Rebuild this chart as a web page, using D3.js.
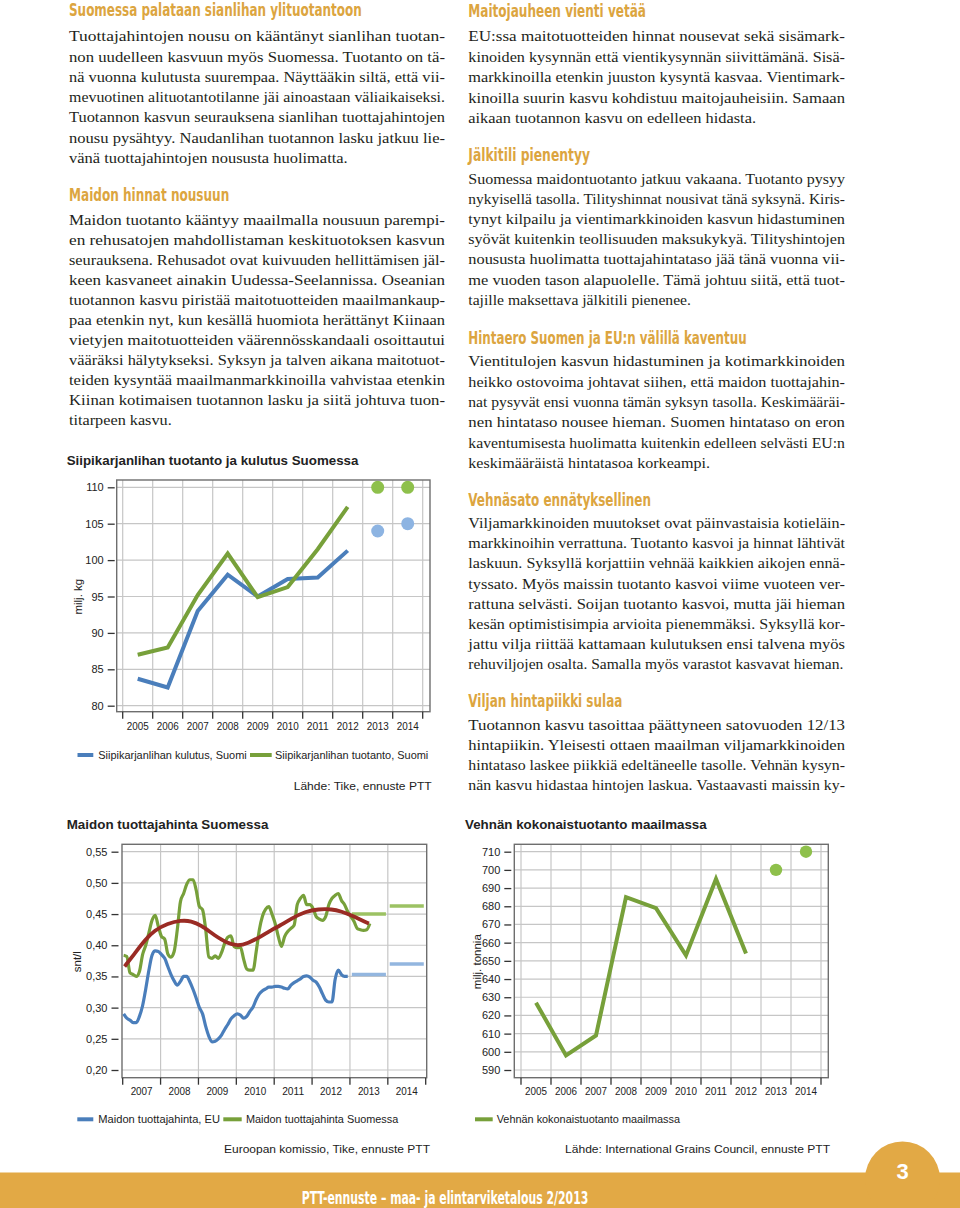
<!DOCTYPE html>
<html><head><meta charset="utf-8">
<script src="https://cdn.jsdelivr.net/npm/d3@7"></script>
<style>body{margin:0;background:#fff}svg{display:block}</style>
</head><body>
<script>
// ================= DATA =================
// Chart 1: Siipikarjanlihan tuotanto ja kulutus Suomessa (milj. kg)
const poultryYears = [2005, 2006, 2007, 2008, 2009, 2010, 2011, 2012, 2013, 2014];
const poultryHistYears = [2005, 2006, 2007, 2008, 2009, 2010, 2011, 2012];
const poultryConsumption = [83.7, 82.5, 93.0, 98.0, 95.0, 97.4, 97.6, 101.3];
const poultryProduction = [87.0, 88.0, 95.2, 100.9, 94.9, 96.3, 101.5, 107.3];
const poultryForecastYears = [2013, 2014];
const poultryConsumptionForecast = [104, 105];
const poultryProductionForecast = [110, 110];
const poultryTicks = [80, 85, 90, 95, 100, 105, 110];

// Chart 2: Maidon tuottajahinta Suomessa (snt/l), monthly from Jan 2007
const milkStartYear = 2007;
const milkFinland = [0.384,0.382,0.356,0.353,0.350,0.358,0.385,0.400,0.420,0.440,
 0.448,0.430,0.414,0.410,0.386,0.381,0.390,0.425,0.470,0.483,
 0.498,0.505,0.505,0.488,0.462,0.457,0.425,0.381,0.379,0.383,
 0.379,0.388,0.403,0.413,0.415,0.398,0.396,0.397,0.378,0.362,
 0.360,0.360,0.390,0.425,0.447,0.458,0.462,0.450,0.435,0.414,
 0.398,0.414,0.422,0.427,0.432,0.465,0.475,0.480,0.465,0.465,
 0.459,0.446,0.442,0.440,0.446,0.465,0.475,0.480,0.483,0.472,
 0.465,0.454,0.446,0.438,0.427,0.425,0.424,0.425,0.435];
const milkEU = [0.290,0.283,0.280,0.276,0.276,0.286,0.303,0.330,0.360,0.384,
 0.391,0.390,0.385,0.379,0.366,0.353,0.343,0.336,0.342,0.350,
 0.350,0.341,0.329,0.315,0.300,0.290,0.270,0.254,0.245,0.246,
 0.250,0.256,0.265,0.273,0.282,0.287,0.290,0.288,0.283,0.286,
 0.294,0.301,0.313,0.322,0.327,0.330,0.333,0.333,0.334,0.334,
 0.333,0.331,0.330,0.336,0.340,0.343,0.346,0.350,0.351,0.349,
 0.344,0.341,0.333,0.322,0.312,0.309,0.309,0.345,0.360,0.353,
 0.350,0.350];
const milkTrendYears = [2007.05,2007.32,2007.58,2007.84,2008.19,2008.54,2008.81,2009.07,2009.42,2009.77,
 2010.04,2010.30,2010.65,2011.0,2011.11,2011.46,2011.82,2012.17,2012.52,2012.78,2013.04,2013.31,2013.5];
const milkTrendValues = [0.366,0.387,0.408,0.424,0.435,0.440,0.439,0.432,0.416,0.403,
 0.399,0.403,0.414,0.427,0.430,0.443,0.454,0.458,0.458,0.454,0.448,0.440,0.435];
const milkForecastYears = [2013, 2014];
const milkFinlandForecast = [0.450, 0.463];
const milkEUForecast = [0.353, 0.370];
const milkTicks = [0.20, 0.25, 0.30, 0.35, 0.40, 0.45, 0.50, 0.55];
const milkYearLabels = [2007, 2008, 2009, 2010, 2011, 2012, 2013, 2014];

// Chart 3: Vehnän kokonaistuotanto maailmassa (milj. tonnia)
const wheatYears = [2005, 2006, 2007, 2008, 2009, 2010, 2011, 2012, 2013, 2014];
const wheatHistYears = [2005, 2006, 2007, 2008, 2009, 2010, 2011, 2012];
const wheatProduction = [627, 598, 609, 685, 679, 653, 695, 654];
const wheatForecastYears = [2013, 2014];
const wheatForecast = [700, 710];
const wheatTicks = [590, 600, 610, 620, 630, 640, 650, 660, 670, 680, 690, 700, 710];

// ================= TEXT =================
const leftHead1 = "Suomessa palataan sianlihan ylituotantoon";
const leftPara1 = [
 "Tuottajahintojen nousu on kääntänyt sianlihan tuotan-",
 "non uudelleen kasvuun myös Suomessa. Tuotanto on tä-",
 "nä vuonna kulutusta suurempaa. Näyttääkin siltä, että vii-",
 "mevuotinen alituotantotilanne jäi ainoastaan väliaikaiseksi.",
 "Tuotannon kasvun seurauksena sianlihan tuottajahintojen",
 "nousu pysähtyy. Naudanlihan tuotannon lasku jatkuu lie-",
 "vänä tuottajahintojen noususta huolimatta."];
const leftHead2 = "Maidon hinnat nousuun";
const leftPara2 = [
 "Maidon tuotanto kääntyy maailmalla nousuun parempi-",
 "en rehusatojen mahdollistaman keskituotoksen kasvun",
 "seurauksena. Rehusadot ovat kuivuuden hellittämisen jäl-",
 "keen kasvaneet ainakin Uudessa-Seelannissa. Oseanian",
 "tuotannon kasvu piristää maitotuotteiden maailmankaup-",
 "paa etenkin nyt, kun kesällä huomiota herättänyt Kiinaan",
 "vietyjen maitotuotteiden väärennösskandaali osoittautui",
 "vääräksi hälytykseksi. Syksyn ja talven aikana maitotuot-",
 "teiden kysyntää maailmanmarkkinoilla vahvistaa etenkin",
 "Kiinan kotimaisen tuotannon lasku ja siitä johtuva tuon-",
 "titarpeen kasvu."];
const rightHead1 = "Maitojauheen vienti vetää";
const rightPara1 = [
 "EU:ssa maitotuotteiden hinnat nousevat sekä sisämark-",
 "kinoiden kysynnän että vientikysynnän siivittämänä. Sisä-",
 "markkinoilla etenkin juuston kysyntä kasvaa. Vientimark-",
 "kinoilla suurin kasvu kohdistuu maitojauheisiin. Samaan",
 "aikaan tuotannon kasvu on edelleen hidasta."];
const rightHead2 = "Jälkitili pienentyy";
const rightPara2 = [
 "Suomessa maidontuotanto jatkuu vakaana. Tuotanto pysyy",
 "nykyisellä tasolla. Tilityshinnat nousivat tänä syksynä. Kiris-",
 "tynyt kilpailu ja vientimarkkinoiden kasvun hidastuminen",
 "syövät kuitenkin teollisuuden maksukykyä. Tilityshintojen",
 "noususta huolimatta tuottajahintataso jää tänä vuonna vii-",
 "me vuoden tason alapuolelle. Tämä johtuu siitä, että tuot-",
 "tajille maksettava jälkitili pienenee."];
const rightHead3 = "Hintaero Suomen ja EU:n välillä kaventuu";
const rightPara3 = [
 "Vientitulojen kasvun hidastuminen ja kotimarkkinoiden",
 "heikko ostovoima johtavat siihen, että maidon tuottajahin-",
 "nat pysyvät ensi vuonna tämän syksyn tasolla. Keskimääräi-",
 "nen hintataso nousee hieman. Suomen hintataso on eron",
 "kaventumisesta huolimatta kuitenkin edelleen selvästi EU:n",
 "keskimääräistä hintatasoa korkeampi."];
const rightHead4 = "Vehnäsato ennätyksellinen";
const rightPara4 = [
 "Viljamarkkinoiden muutokset ovat päinvastaisia kotieläin-",
 "markkinoihin verrattuna. Tuotanto kasvoi ja hinnat lähtivät",
 "laskuun. Syksyllä korjattiin vehnää kaikkien aikojen ennä-",
 "tyssato. Myös maissin tuotanto kasvoi viime vuoteen ver-",
 "rattuna selvästi. Soijan tuotanto kasvoi, mutta jäi hieman",
 "kesän optimistisimpia arvioita pienemmäksi. Syksyllä kor-",
 "jattu vilja riittää kattamaan kulutuksen ensi talvena myös",
 "rehuviljojen osalta. Samalla myös varastot kasvavat hieman."];
const rightHead5 = "Viljan hintapiikki sulaa";
const rightPara5 = [
 "Tuotannon kasvu tasoittaa päättyneen satovuoden 12/13",
 "hintapiikin. Yleisesti ottaen maailman viljamarkkinoiden",
 "hintataso laskee piikkiä edeltäneelle tasolle. Vehnän kysyn-",
 "nän kasvu hidastaa hintojen laskua. Vastaavasti maissin ky-"];

// ================= DRAW =================
const svg = d3.select('body').append('svg').attr('width', 960).attr('height', 1208);
svg.append('rect').attr('width', 960).attr('height', 1208).attr('fill', '#fff');
const SERIF = "'Liberation Serif','Times New Roman',serif";
const COND = "'Liberation Sans Narrow','DejaVu Sans Condensed',Roboto,sans-serif";
const SANS = "'Liberation Sans',Arial,sans-serif";
const ORANGE = '#DCA540';
const BAND = '#E2A945';
const BLUE = '#4A7EBB', GREEN = '#77A03A', RED = '#9A2B24';
const LBLUE = '#8DB4E2', LGREEN = '#8EC04B';

function heading(x, y, txt, w) {
  svg.append('text').attr('x', x).attr('y', y)
    .attr('font-family', COND).attr('font-weight', 'bold').attr('font-size', 17)
    .attr('fill', ORANGE).attr('textLength', w).attr('lengthAdjust', 'spacingAndGlyphs').text(txt);
}
function para(x, y0, dy, lines, colW, lastW) {
  lines.forEach((l, i) => {
    const w = (i === lines.length - 1 && lastW) ? lastW : colW;
    svg.append('text').attr('x', x).attr('y', y0 + i * dy)
      .attr('font-family', SERIF).attr('font-size', 15).attr('fill', '#231f20')
      .attr('textLength', w).attr('lengthAdjust', 'spacingAndGlyphs').text(l);
  });
}
heading(69, 16, leftHead1, 292.7);
para(69, 41.2, 20.3, leftPara1, 376, 278.7);
heading(69, 201, leftHead2, 160.3);
para(69, 224.5, 20, leftPara2, 376, 102.7);

heading(468.3, 17.3, rightHead1, 177.7);
para(468.3, 41.3, 20.4, rightPara1, 376.7, 287.7);
heading(468.3, 160.7, rightHead2, 121.7);
para(468.3, 184, 20.1, rightPara2, 376.7, 222.7);
heading(468.3, 344, rightHead3, 278.3);
para(468.3, 366.3, 20.3, rightPara3, 376.7, 241.7);
heading(468.3, 505.7, rightHead4, 182.7);
para(468.3, 528, 20.2, rightPara4, 376.7, 375);
heading(468.3, 707.3, rightHead5, 154);
para(468.3, 729.7, 20, rightPara5, 376.7, null);

// ---------- chart helpers ----------
function chartText(x, y, txt, opts) {
  const t = svg.append('text').attr('x', x).attr('y', y)
    .attr('font-family', SANS).attr('font-size', opts.size || 10.5).attr('fill', opts.fill || '#222')
    .attr('font-weight', opts.bold ? 'bold' : 'normal')
    .attr('text-anchor', opts.anchor || 'start').text(txt);
  if (opts.w) t.attr('textLength', opts.w).attr('lengthAdjust', 'spacingAndGlyphs');
  if (opts.rotate) t.attr('transform', `rotate(-90,${x},${y})`);
  return t;
}
function frameAndGrid(f, hVals, yScale, vXs) {
  const g = svg.append('g');
  hVals.forEach(v => g.append('line').attr('x1', f.l).attr('x2', f.r).attr('y1', yScale(v)).attr('y2', yScale(v))
    .attr('stroke', '#c6c6c6').attr('stroke-width', 1.2));
  vXs.forEach(x => g.append('line').attr('x1', x).attr('x2', x).attr('y1', f.t).attr('y2', f.b)
    .attr('stroke', '#c6c6c6').attr('stroke-width', 1.2));
  g.append('rect').attr('x', f.l).attr('y', f.t).attr('width', f.r - f.l).attr('height', f.b - f.t)
    .attr('fill', 'none').attr('stroke', '#6e6e6e').attr('stroke-width', 1.4);
}
function yAxis(yScale, ticks, x, fmt) {
  const g = svg.append('g').attr('transform', `translate(${x},0)`)
    .call(d3.axisLeft(yScale).tickValues(ticks).tickSize(7).tickPadding(4).tickFormat(fmt));
  g.select('.domain').remove();
  g.selectAll('line').attr('stroke', '#333').attr('stroke-width', 1.3);
  g.selectAll('text').attr('font-family', SANS).attr('font-size', 11).attr('fill', '#222');
}
function xTicks(xs, y) {
  xs.forEach(x => svg.append('line').attr('x1', x).attr('x2', x).attr('y1', y).attr('y2', y + 7)
    .attr('stroke', '#333').attr('stroke-width', 1.3));
}
function legendLine(x1, x2, y, color) {
  svg.append('line').attr('x1', x1).attr('x2', x2).attr('y1', y).attr('y2', y)
    .attr('stroke', color).attr('stroke-width', 4);
}

// ---------- Chart 1: poultry ----------
{
  const f = {l: 116.7, r: 430, t: 480, b: 711.7};
  const x = d3.scaleBand().domain(poultryYears).range([122.7, 422.7]);
  const y = d3.scaleLinear().domain([80, 110]).range([705.7, 487.3]);
  const bw = x.bandwidth();
  const bounds = poultryYears.map(d => x(d)).concat([x(poultryYears[poultryYears.length - 1]) + bw]);
  chartText(66.7, 464.5, 'Siipikarjanlihan tuotanto ja kulutus Suomessa', {size: 13, bold: true, w: 291.7});
  frameAndGrid(f, poultryTicks, y, bounds);
  yAxis(y, poultryTicks, f.l - 2, d3.format('d'));
  xTicks(bounds, f.b);
  poultryYears.forEach(d => chartText(x(d) + bw / 2, 729.5, d, {size: 11, anchor: 'middle', w: 22}));
  chartText(82.5, 596.7, 'milj. kg', {size: 11.5, anchor: 'middle', rotate: true});
  const line = d3.line().x(d => x(d[0]) + bw / 2).y(d => y(d[1]));
  svg.append('path').attr('d', line(d3.zip(poultryHistYears, poultryConsumption)))
    .attr('fill', 'none').attr('stroke', BLUE).attr('stroke-width', 4).attr('stroke-linejoin', 'miter');
  svg.append('path').attr('d', line(d3.zip(poultryHistYears, poultryProduction)))
    .attr('fill', 'none').attr('stroke', GREEN).attr('stroke-width', 4).attr('stroke-linejoin', 'miter');
  poultryForecastYears.forEach((yr, i) => {
    svg.append('circle').attr('cx', x(yr) + bw / 2).attr('cy', y(poultryProductionForecast[i])).attr('r', 6.5).attr('fill', LGREEN);
    svg.append('circle').attr('cx', x(yr) + bw / 2).attr('cy', y(poultryConsumptionForecast[i])).attr('r', 6.5).attr('fill', LBLUE);
  });
  legendLine(77.5, 93.3, 755, BLUE);
  chartText(98.3, 759, 'Siipikarjanlihan kulutus, Suomi', {size: 10.8, w: 148.4});
  legendLine(250, 271.7, 755, GREEN);
  chartText(275, 759, 'Siipikarjanlihan tuotanto, Suomi', {size: 10.8, w: 153.3});
  chartText(431.7, 789.5, 'Lähde: Tike, ennuste PTT', {size: 11.3, anchor: 'end', w: 138});
}

// ---------- Chart 2: milk ----------
{
  const f = {l: 122, r: 426.7, t: 844.3, b: 1077.7};
  const x = d3.scaleLinear().domain([2007, 2015]).range([122.7, 425.7]);
  const y = d3.scaleLinear().domain([0.20, 0.55]).range([1070, 851.7]);
  const yearBounds = d3.range(2007, 2016);
  chartText(66.7, 829, 'Maidon tuottajahinta Suomessa', {size: 13, bold: true, w: 201.7});
  frameAndGrid(f, milkTicks, y, yearBounds.slice(1, -1).map(x));
  yAxis(y, milkTicks, f.l - 3.5, d => d3.format('.2f')(d).replace('.', ','));
  xTicks(yearBounds.map(x), f.b);
  milkYearLabels.forEach(d => chartText(x(d + 0.5), 1095, d, {size: 11, anchor: 'middle', w: 22}));
  chartText(81.5, 961.7, 'snt/l', {size: 11.5, anchor: 'middle', rotate: true});
  // forecast segments
  milkForecastYears.forEach((yr, i) => {
    svg.append('line').attr('x1', x(yr + 0.05)).attr('x2', x(yr + 0.95))
      .attr('y1', y(milkFinlandForecast[i])).attr('y2', y(milkFinlandForecast[i]))
      .attr('stroke', '#9CC263').attr('stroke-width', 3.5);
    svg.append('line').attr('x1', x(yr + 0.05)).attr('x2', x(yr + 0.95))
      .attr('y1', y(milkEUForecast[i])).attr('y2', y(milkEUForecast[i]))
      .attr('stroke', '#93B6DF').attr('stroke-width', 3.5);
  });
  const mline = d3.line().x((d, i) => x(milkStartYear + (i + 0.3) / 12)).y(d => y(d)).curve(d3.curveMonotoneX);
  svg.append('path').attr('d', mline(milkEU)).attr('fill', 'none').attr('stroke', BLUE).attr('stroke-width', 3.2);
  svg.append('path').attr('d', mline(milkFinland)).attr('fill', 'none').attr('stroke', GREEN).attr('stroke-width', 3.2);
  const tline = d3.line().x(d => x(d[0])).y(d => y(d[1])).curve(d3.curveBasis);
  svg.append('path').attr('d', tline(d3.zip(milkTrendYears, milkTrendValues)))
    .attr('fill', 'none').attr('stroke', RED).attr('stroke-width', 3.8);
  legendLine(77.3, 93.3, 1119.3, BLUE);
  chartText(98.3, 1123, 'Maidon tuottajahinta, EU', {size: 10.8, w: 121.7});
  legendLine(223.3, 241.7, 1119.3, GREEN);
  chartText(246, 1123, 'Maidon tuottajahinta Suomessa', {size: 10.8, w: 152.3});
  chartText(430, 1152.5, 'Euroopan komissio, Tike, ennuste PTT', {size: 11.3, anchor: 'end', w: 206});
}

// ---------- Chart 3: wheat ----------
{
  const f = {l: 514.3, r: 828.3, t: 844.3, b: 1077.7};
  const x = d3.scaleBand().domain(wheatYears).range([521, 821]);
  const y = d3.scaleLinear().domain([590, 710]).range([1070, 851.7]);
  const bw = x.bandwidth();
  const bounds = wheatYears.map(d => x(d)).concat([x(wheatYears[wheatYears.length - 1]) + bw]);
  chartText(465, 829, 'Vehnän kokonaistuotanto maailmassa', {size: 13, bold: true, w: 241.7});
  frameAndGrid(f, wheatTicks, y, bounds);
  yAxis(y, wheatTicks, f.l - 3, d3.format('d'));
  xTicks(bounds, f.b);
  wheatYears.forEach(d => chartText(x(d) + bw / 2, 1095, d, {size: 11, anchor: 'middle', w: 22}));
  chartText(481, 961.7, 'milj. tonnia', {size: 11.5, anchor: 'middle', rotate: true});
  const line = d3.line().x(d => x(d[0]) + bw / 2).y(d => y(d[1]));
  svg.append('path').attr('d', line(d3.zip(wheatHistYears, wheatProduction)))
    .attr('fill', 'none').attr('stroke', GREEN).attr('stroke-width', 4);
  wheatForecastYears.forEach((yr, i) => {
    svg.append('circle').attr('cx', x(yr) + bw / 2).attr('cy', y(wheatForecast[i])).attr('r', 6.2).attr('fill', LGREEN);
  });
  legendLine(475, 492.7, 1119.3, GREEN);
  chartText(496.7, 1123, 'Vehnän kokonaistuotanto maailmassa', {size: 10.8, w: 183.3});
  chartText(830, 1152.5, 'Lähde: International Grains Council, ennuste PTT', {size: 11.3, anchor: 'end', w: 265});
}

// ---------- footer ----------
svg.append('rect').attr('x', 0).attr('y', 1172.5).attr('width', 960).attr('height', 36).attr('fill', BAND);
svg.append('circle').attr('cx', 902.5).attr('cy', 1179).attr('r', 37.5).attr('fill', BAND);
svg.append('text').attr('x', 902.7).attr('y', 1178.5).attr('text-anchor', 'middle')
  .attr('font-family', SANS).attr('font-weight', 'bold').attr('font-size', 22).attr('fill', '#fff').text('3');
svg.append('text').attr('x', 301.7).attr('y', 1204).attr('font-family', COND).attr('font-weight', 'bold')
  .attr('font-size', 17).attr('fill', '#fff').attr('textLength', 286.6).attr('lengthAdjust', 'spacingAndGlyphs')
  .text('PTT-ennuste – maa- ja elintarviketalous 2/2013');
</script>
</body></html>
